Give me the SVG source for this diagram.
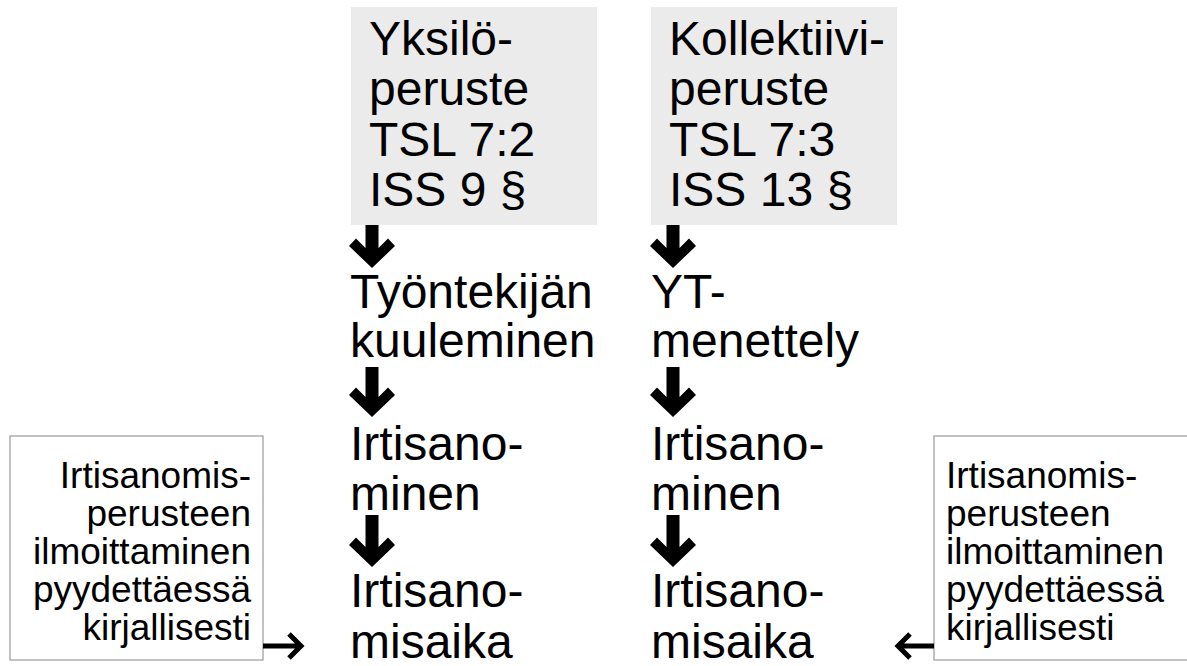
<svg xmlns="http://www.w3.org/2000/svg" width="1187" height="666" viewBox="0 0 1187 666">
<style>
.big{font-family:"Liberation Sans",Arial,sans-serif;font-size:48px;fill:#000}
.small{font-family:"Liberation Sans",Arial,sans-serif;font-size:37px;fill:#000}
.gray{fill:#ebebeb}
.note{fill:#fff;stroke:#999;stroke-width:1.2}
.arr{fill:#000}
.thin{stroke:#000;stroke-width:5;fill:none}
</style>
<rect width="1187" height="666" fill="#fff"/>
<g id="node-yksilo">
<rect class="gray" x="351" y="7" width="246" height="218"/>
<text class="big"><tspan x="369" y="55">Yksilö-</tspan><tspan x="369" y="105">peruste</tspan><tspan x="369" y="156">TSL 7:2</tspan><tspan x="369" y="206">ISS 9 §</tspan></text>
</g>
<g id="node-kollektiivi">
<rect class="gray" x="651" y="7" width="246" height="218"/>
<text class="big"><tspan x="669" y="55">Kollektiivi-</tspan><tspan x="669" y="105">peruste</tspan><tspan x="669" y="156">TSL 7:3</tspan><tspan x="669" y="206">ISS 13 §</tspan></text>
</g>
<g id="node-kuuleminen">
<text class="big"><tspan x="350" y="308">Työntekijän</tspan><tspan x="350" y="357">kuuleminen</tspan></text>
</g>
<g id="node-yt">
<text class="big"><tspan x="651" y="308">YT-</tspan><tspan x="651" y="357">menettely</tspan></text>
</g>
<g id="node-irtisanominen-l">
<text class="big"><tspan x="350" y="460">Irtisano-</tspan><tspan x="350" y="510">minen</tspan></text>
</g>
<g id="node-irtisanominen-r">
<text class="big"><tspan x="651" y="460">Irtisano-</tspan><tspan x="651" y="510">minen</tspan></text>
</g>
<g id="node-aika-l">
<text class="big"><tspan x="350" y="607">Irtisano-</tspan><tspan x="350" y="658">misaika</tspan></text>
</g>
<g id="node-aika-r">
<text class="big"><tspan x="651" y="607">Irtisano-</tspan><tspan x="651" y="658">misaika</tspan></text>
</g>
<g id="node-note-l">
<rect class="note" x="10" y="436" width="253" height="224"/>
<text class="small" text-anchor="end"><tspan x="251" y="488">Irtisanomis-</tspan><tspan x="251" y="526">perusteen</tspan><tspan x="251" y="564">ilmoittaminen</tspan><tspan x="251" y="602">pyydettäessä</tspan><tspan x="251" y="640">kirjallisesti</tspan></text>
</g>
<g id="node-note-r">
<rect class="note" x="934" y="436" width="260" height="224"/>
<text class="small"><tspan x="946" y="488">Irtisanomis-</tspan><tspan x="946" y="526">perusteen</tspan><tspan x="946" y="564">ilmoittaminen</tspan><tspan x="946" y="602">pyydettäessä</tspan><tspan x="946" y="640">kirjallisesti</tspan></text>
</g>
<g id="connectors" class="arr">
<path d="M365.5,225 H378.5 V248 L388,238.5 L395,246 L372,268 L349,246 L356,238.5 L365.5,248 Z"/>
<path d="M666.5,225 H679.5 V248 L689,238.5 L696,246 L673,268 L650,246 L657,238.5 L666.5,248 Z"/>
<path d="M365.5,367 H378.5 V397 L388,387.5 L395,395 L372,417 L349,395 L356,387.5 L365.5,397 Z"/>
<path d="M666.5,367 H679.5 V397 L689,387.5 L696,395 L673,417 L650,395 L657,387.5 L666.5,397 Z"/>
<path d="M365.5,515 H378.5 V547 L388,537.5 L395,545 L372,567 L349,545 L356,537.5 L365.5,547 Z"/>
<path d="M666.5,515 H679.5 V547 L689,537.5 L696,545 L673,567 L650,545 L657,537.5 L666.5,547 Z"/>
<path class="thin" d="M263,646 H300 M289,634 L301,646 L289,658"/>
<path class="thin" d="M934,646 H899 M910,634 L898,646 L910,658"/>
</g>
</svg>
